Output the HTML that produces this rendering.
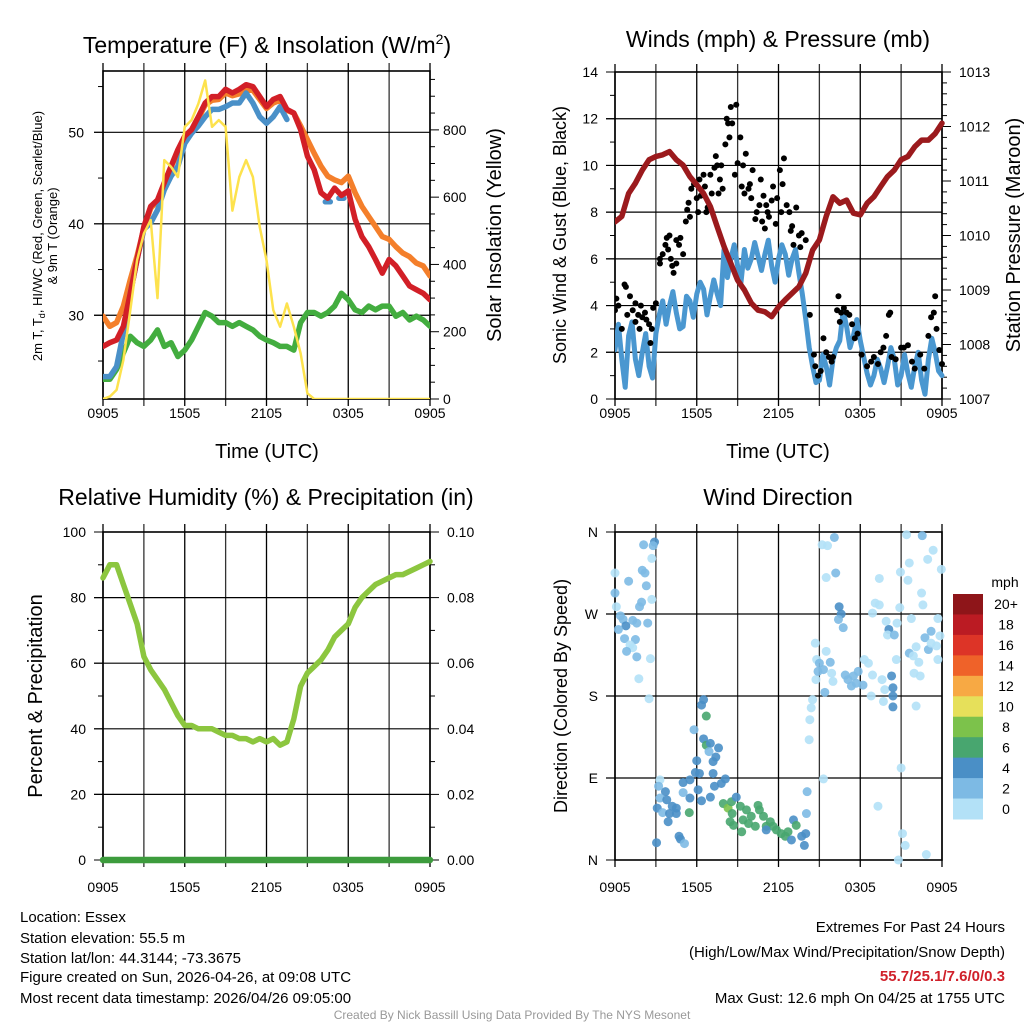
<!DOCTYPE html>
<html><head><meta charset="utf-8"><style>
html,body{margin:0;padding:0;background:#fff;}
svg{display:block;font-family:"Liberation Sans",Arial,sans-serif;}
</style></head><body>
<svg id="fig" width="1024" height="1024" viewBox="0 0 1024 1024" xmlns="http://www.w3.org/2000/svg">
<rect width="1024" height="1024" fill="#fff"/>
<g id="layer"></g>
<text x="267" y="53" font-size="23" text-anchor="middle">Temperature (F) &amp; Insolation (W/m<tspan font-size="14" dy="-9">2</tspan><tspan dy="9">)</tspan></text>
<text x="778" y="47" font-size="23" text-anchor="middle">Winds (mph) &amp; Pressure (mb)</text>
<text x="266" y="505" font-size="23" text-anchor="middle">Relative Humidity (%) &amp; Precipitation (in)</text>
<text x="778" y="505" font-size="23" text-anchor="middle">Wind Direction</text>
<text x="267" y="458" font-size="20" text-anchor="middle">Time (UTC)</text>
<text x="778" y="458" font-size="20" text-anchor="middle">Time (UTC)</text>
<text transform="translate(42,236) rotate(-90)" font-size="13" text-anchor="middle">2m T, T<tspan font-size="9" dy="3">d</tspan><tspan dy="-3">, HI/WC (Red, Green, Scarlet/Blue)</tspan></text>
<text transform="translate(57,236) rotate(-90)" font-size="13" text-anchor="middle">&amp; 9m T (Orange)</text>
<text transform="translate(501,235) rotate(-90)" font-size="20" text-anchor="middle">Solar Insolation (Yellow)</text>
<text transform="translate(566,235) rotate(-90)" font-size="18" text-anchor="middle">Sonic Wind &amp; Gust (Blue, Black)</text>
<text transform="translate(1020,235) rotate(-90)" font-size="20" text-anchor="middle">Station Pressure (Maroon)</text>
<text transform="translate(42,696) rotate(-90)" font-size="20" text-anchor="middle">Percent &amp; Precipitation</text>
<text transform="translate(567,696) rotate(-90)" font-size="18" text-anchor="middle">Direction (Colored By Speed)</text>
<text x="1005" y="587" font-size="14" text-anchor="middle">mph</text>
<g font-size="15">
<text x="20" y="922">Location: Essex</text>
<text x="20" y="943">Station elevation: 55.5 m</text>
<text x="20" y="963">Station lat/lon: 44.3144; -73.3675</text>
<text x="20" y="982">Figure created on Sun, 2026-04-26, at 09:08 UTC</text>
<text x="20" y="1003">Most recent data timestamp: 2026/04/26 09:05:00</text>
</g>
<g font-size="15" text-anchor="end">
<text x="1005" y="932">Extremes For Past 24 Hours</text>
<text x="1005" y="957">(High/Low/Max Wind/Precipitation/Snow Depth)</text>
<text x="1005" y="981" font-weight="bold" fill="#d0202a">55.7/25.1/7.6/0/0.3</text>
<text x="1005" y="1003">Max Gust: 12.6 mph On 04/25 at 1755 UTC</text>
</g>
<text x="512" y="1019" font-size="12" fill="#999" text-anchor="middle">Created By Nick Bassill Using Data Provided By The NYS Mesonet</text>
</svg>
<script>
const timeLabels = ["0905","1505","2105","0305","0905"];
const tempRed = [26.6,27.0,27.3,28.8,32.4,36.1,39.7,41.9,42.6,44.5,46.3,48.1,49.6,50.3,51.7,53.2,53.9,53.9,54.7,54.3,54.7,55.2,55.0,53.9,52.8,53.6,53.9,52.5,52.1,50.3,47.4,45.9,43.4,42.8,43.9,43.1,43.6,40.5,38.6,37.5,36.1,34.6,36.1,35.4,34.3,33.2,32.8,32.4,31.7];
const temp9m = [29.9,28.8,29.2,31.0,33.9,36.5,39.5,41.7,42.5,44.3,46.2,47.9,49.4,50.2,51.5,53.0,53.5,53.6,54.3,54.0,54.2,54.6,54.6,53.6,52.6,53.2,53.5,52.4,52.1,50.7,49.2,47.7,46.3,45.2,44.8,44.5,45.2,43.4,41.9,40.8,39.7,38.6,38.3,37.5,36.8,36.4,35.7,35.4,34.3];
const heatIndex = [23.3,23.3,24.4,28.1,32.4,36.1,39.4,40.1,41.5,43.7,45.2,46.3,48.8,49.9,50.7,51.7,52.5,52.5,52.8,53.2,53.2,54.3,53.2,51.7,51.0,51.7,52.8,51.4,null,null,null,null,null,42.4,null,42.8,null,null,null,null,null,null,null,null,null,null,null,null,null];
const dewpoint = [23.0,23.0,24.1,25.9,27.7,27.0,26.6,27.3,28.4,26.6,27.0,25.5,26.2,27.3,28.8,30.3,29.9,29.2,29.2,28.8,29.2,28.8,28.4,27.7,27.3,27.0,26.6,26.6,26.2,29.2,30.3,30.3,29.9,30.3,31.0,32.4,31.7,30.6,30.3,31.0,30.6,31.0,31.0,29.9,30.3,29.5,29.9,29.5,28.8];
const solar = [0,7,27,116,264,413,492,532,300,710,690,660,809,829,878,947,809,829,809,560,660,710,660,512,413,264,215,284,215,136,17,0,0,0,0,0,0,0,0,0,0,0,0,0,0,0,0,0,0];
const pressure = [1010.25,1010.35,1010.77,1010.96,1011.2,1011.39,1011.45,1011.48,1011.54,1011.39,1011.29,1011.08,1010.93,1010.77,1010.53,1010.16,1009.8,1009.49,1009.18,1009.0,1008.76,1008.63,1008.6,1008.51,1008.69,1008.82,1008.94,1009.06,1009.31,1009.73,1009.92,1010.35,1010.71,1010.59,1010.65,1010.41,1010.38,1010.59,1010.71,1010.9,1011.08,1011.2,1011.39,1011.45,1011.63,1011.75,1011.75,1011.87,1012.06];
const humidity = [86,90,90,84,78,72,62,58,55,52,48,44,41,41,40,40,40,39,38,38,37,37,36,37,36,37,35,36,43,53,57,59,61,64,68,70,72,77,80,82,84,85,86,87,87,88,89,90,91];
const precip = [0,0,0,0,0,0,0,0,0,0,0,0,0,0,0,0,0,0,0,0,0,0,0,0,0,0,0,0,0,0,0,0,0,0,0,0,0,0,0,0,0,0,0,0,0,0,0,0,0];
const windSpeed = [2.1,3.2,1.7,0.5,2.7,3.3,1.7,1.0,2.0,2.8,1.4,0.9,2.8,3.6,4.2,3.2,4.0,4.6,3.7,3.0,3.1,4.4,4.2,3.5,4.5,5.0,4.7,3.6,4.4,5.1,4.5,4.0,6.4,5.2,6.0,6.6,5.7,5.0,6.4,5.6,6.0,6.7,6.1,5.5,6.2,6.8,5.7,5.0,6.0,6.6,6.2,5.3,6.0,6.4,5.4,4.5,3.4,2.2,1.4,0.7,0.8,1.9,1.4,0.6,1.7,2.2,2.5,3.8,3.1,2.2,2.7,3.4,2.5,1.8,1.1,0.6,1.0,1.7,1.3,0.7,1.4,2.2,1.7,0.6,1.0,1.9,1.1,0.5,1.4,2.0,0.8,0.2,1.7,2.6,2.0,1.2,1.0];
const gustHour = [0,0.1,0.25,0.5,0.7,0.8,0.9,1.1,1.3,1.5,1.5,1.7,1.8,1.9,2.0,2.2,2.3,2.5,2.6,2.7,2.8,3.0,3.3,3.3,3.5,3.7,3.8,3.9,4.0,4.1,4.2,4.3,4.5,4.5,4.7,4.8,5.0,5.2,5.3,5.4,5.5,5.6,5.8,6.0,6.1,6.2,6.3,6.5,6.6,6.7,6.8,7.0,7.1,7.3,7.4,7.5,7.6,7.7,7.8,7.9,8.1,8.2,8.3,8.4,8.5,8.6,8.8,8.9,9.0,9.2,9.3,9.4,9.5,9.6,9.8,9.9,10.0,10.1,10.3,10.4,10.6,10.7,10.8,10.9,11.0,11.1,11.2,11.3,11.5,11.6,11.8,11.9,12.1,12.2,12.3,12.4,12.6,12.8,12.9,13.0,13.1,13.3,13.5,13.6,13.7,14.0,14.3,14.6,14.7,14.9,15.1,15.3,15.5,15.7,15.9,16.0,16.3,16.4,16.5,16.6,16.8,17.0,17.2,17.4,17.6,17.8,18.1,18.5,18.8,19.0,19.3,19.5,19.7,19.9,20.1,20.2,20.3,20.6,21.0,21.2,21.5,21.8,22.0,22.4,22.7,23.0,23.2,23.4,23.5,23.6,23.8,24.0];
const gustSpeed = [3.8,4.3,4.0,3.0,4.9,4.8,3.6,4.4,3.8,3.3,4.1,3.6,3.0,4.0,3.5,3.7,3.4,3.2,2.4,3.0,3.9,4.1,5.8,6.0,6.2,6.6,6.9,6.4,7.0,6.0,5.7,5.4,5.8,6.8,6.6,6.9,6.2,7.6,8.1,8.4,7.8,9.0,9.2,8.6,8.0,9.4,8.7,9.6,9.1,8.0,8.2,9.6,8.8,9.9,10.4,10.0,8.8,9.4,10.0,9.0,10.9,12.0,11.8,11.2,12.5,11.8,9.6,12.6,10.1,11.2,9.1,10.0,8.8,10.5,9.0,9.2,8.6,9.8,7.7,8.0,8.3,9.4,7.6,8.7,7.3,8.3,8.0,7.8,8.5,9.1,7.5,8.6,9.8,8.0,9.2,10.3,8.3,8.0,7.2,7.4,6.6,8.2,7.0,6.5,7.1,6.8,3.6,1.9,1.4,1.0,1.2,2.6,2.0,1.8,1.6,1.8,3.8,4.4,3.3,3.7,3.9,3.7,3.6,3.2,2.6,2.8,1.9,1.4,1.6,1.8,1.5,2.0,2.2,2.7,3.6,3.7,1.8,1.7,2.2,2.2,2.3,1.6,1.3,1.9,1.3,2.7,3.5,3.7,4.4,3.0,2.1,1.5];
const dirHour = [2.1,2.9,2.8,0,2.7,2.0,2.2,1.0,2.3,0,2.7,1.95,1.8,0.1,0.4,0.6,0.8,1.3,1.6,2.4,0.25,0.7,1.5,1.1,1.3,0.85,1.6,2.6,1.75,2.5,
6.5,6.35,6.7,5.8,6.5,6.7,7.0,7.6,6.9,7.4,7.2,6.0,5.9,6.2,7.2,8.1,7.8,7.3,3.3,3.2,3.7,5.0,5.5,5.0,5.5,6.1,6.35,7.0,3.3,3.8,3.1,4.2,4.5,3.5,4.0,4.5,5.45,3.9,4.7,4.8,5.1,3.05,
7.95,8.3,8.55,8.9,9.2,8.6,9.65,10.0,10.5,10.6,10.9,9.4,9.8,10.3,8.45,8.7,9.3,11.1,11.4,11.6,11.85,11.1,12.2,12.5,12.7,12.95,13.1,13.3,13.7,13.9,14.0,14.05,14.1,
14.25,14.3,14.4,14.5,14.75,14.9,14.8,14.7,15.0,15.3,15.4,15.5,15.8,15.9,16.0,15.2,15.6,16.1,16.2,15.5,16.45,16.6,16.4,16.75,16.9,17.1,17.5,17.85,17.7,17.35,18.2,18.3,18.6,18.9,18.8,18.9,19.1,19.4,19.4,19.6,19.7,19.8,19.9,20.1,20.0,20.3,20.4,20.4,20.4,20.5,20.65,20.7,20.9,20.95,21.0,19.3,15.3,21.4,21.6,21.5,21.75,21.6,21.9,21.95,22.1,22.4,22.5,22.6,22.55,22.95,23.35,23.95,22.75,23.0,23.2,23.2,23.6,23.7,23.85,23.7,22.1,22.3,21.1,21.3,20.8,22.85];
const dirDeg = [346,349,345,315,331,318,315,306,301,293,286,283,278,278,268,264,257,263,260,260,253,243,242,236,233,229,223,221,199,177,
176,170,158,143,133,126,128,123,119,113,108,109,96,95,95,89,84,81,88,81,75,85,88,74,68,77,65,69,68,66,57,59,57,52,51,51,52,42,26,23,18,19,
62,57,64,69,59,51,55,48,60,55,48,44,40,37,42,38,31,37,42,37,33,33,29,26,31,22,44,38,26,16,29,51,75,
132,154,167,176,198,207,220,238,216,209,184,229,217,205,196,346,345,354,315,310,278,270,264,255,203,198,202,207,194,191,192,220,216,203,180,271,282,280,309,198,174,187,262,253,247,202,189,180,168,247,220,260,277,316,101,59,89,357,326,307,265,227,224,205,169,202,293,280,356,330,340,319,244,231,251,238,235,265,246,220,234,217,29,16,0,6];
const dirSpeed = [3,5,3,1,1,3,3,3,3,3,1,3,3,1,3,3,5,3,3,3,3,3,3,1,1,3,3,1,1,1,
5,5,7,3,5,7,5,5,3,5,5,5,5,5,5,5,5,5,1,3,5,5,5,3,5,5,5,5,3,5,5,5,5,3,5,5,7,5,5,5,3,5,
7,9,7,5,7,7,7,7,7,7,7,7,7,7,7,7,7,7,7,7,7,5,7,7,7,5,5,7,5,5,5,3,3,
1,1,1,1,1,3,1,1,3,3,3,1,3,1,1,1,1,3,3,1,5,5,3,3,3,3,3,3,3,3,3,1,1,1,1,1,1,1,1,1,1,1,1,5,1,5,5,5,5,3,1,1,1,1,1,1,1,1,1,1,1,3,1,1,1,1,1,1,3,1,1,1,3,3,3,1,1,1,1,1,1,1,1,1,1,1];
const speedBins = ["0","2","4","6","8","10","12","14","16","18","20+"];
const speedColors = ["#b3e1f7","#7dbae4","#4a8fc6","#48a66f","#7cc24b","#e6e05a","#f7a944","#ef6229","#dd3427","#bb1b23","#8e1519"];

const P1={x0:103,x1:430,y0:71,y1:399,lab:19}, P2={x0:615,x1:942,y0:72,y1:399,lab:19}, P3={x0:103,x1:430,y0:532,y1:860,lab:32}, P4={x0:615,x1:942,y0:532,y1:860,lab:32};
const NS="http://www.w3.org/2000/svg";
const layer=document.getElementById('layer');
function el(tag,attrs,parent){const e=document.createElementNS(NS,tag);for(const k in attrs)e.setAttribute(k,attrs[k]);(parent||layer).appendChild(e);return e;}
function sx(p,h){return p.x0+h/24*(p.x1-p.x0);}
function sy(p,v,lo,hi){return p.y1-(v-lo)/(hi-lo)*(p.y1-p.y0);}
function linePath(p,vals,step,lo,hi){let d="",pen=false;vals.forEach((v,i)=>{if(v===null||v===undefined){pen=false;return;}const x=sx(p,i*step),y=sy(p,v,lo,hi);
 const next=vals[i+1];
 if(!pen&&(next===null||next===undefined)){d+="M"+(x-2.5).toFixed(1)+" "+y.toFixed(1)+"L"+(x+2.5).toFixed(1)+" "+y.toFixed(1);return;}
 d+=(pen?"L":"M")+x.toFixed(1)+" "+y.toFixed(1);pen=true;});return d;}

function frame(p,name,hTicks,leftT,rightT){
  const g=el('g',{});
  
  
  for(let h=0;h<=24;h+=3){const x=sx(p,h);const ln=el('line',{x1:x,x2:x,y1:p.y0-8,y2:p.y1+7,stroke:(h%6==0?'#000':'#333'),'stroke-width':1.3},g);
    
    }
  timeLabels.forEach((t,i)=>{const tx=el('text',{x:sx(p,i*6),y:p.y1+p.lab,'font-size':14,'text-anchor':'middle'},g);tx.textContent=t;
    
    });
  hTicks.forEach(y=>{const ln=el('line',{x1:p.x0-9,x2:p.x1,y1:y,y2:y,stroke:'#000','stroke-width':1.2},g);
    
    });
  function ticks(side,spec){const {lo,hi,major,minor,labels,fmt}=spec;
    for(let v=lo;v<=hi+1e-9;v+=minor){const y=sy(p,v,lo,hi);const isMaj=Math.abs(((v-lo)/major)-Math.round((v-lo)/major))<1e-6;
      const len=isMaj?9:5;const x=side=='l'?p.x0:p.x1;
      el('line',{x1:x,x2:side=='l'?x-len:x+len,y1:y,y2:y,stroke:'#000','stroke-width':1},g);
      if(isMaj){const tx=el('text',{x:side=='l'?p.x0-17:p.x1+17,y:y+5,'font-size':14,'text-anchor':side=='l'?'end':'start'},g);
        tx.textContent=labels?labels[Math.round((v-lo)/major)]:fmt(v);
        
        }}}
  if(leftT)ticks('l',leftT); if(rightT)ticks('r',rightT);
  const b=el('rect',{x:p.x0,y:p.y0,width:p.x1-p.x0,height:p.y1-p.y0,fill:'none',stroke:'#000','stroke-width':1.6},g);
  
  
  return g;
}
function drawLine(p,vals,step,lo,hi,color,w,name){const e=el('path',{d:linePath(p,vals,step,lo,hi),fill:'none',stroke:color,'stroke-width':w,'stroke-linejoin':'round','stroke-linecap':'round'});
  
  return e;}
function dl(g,...a){const e=drawLine(...a);g.appendChild(e);return e;}

const TLO=20.85,THI=56.7,SLO=0,SHI=975;
frame(P1,'temperature',[30,40,50].map(v=>sy(P1,v,TLO,THI)),null,null);
(function(){for(let v=25;v<=55;v+=5){const y=sy(P1,v,TLO,THI);const maj=v%10==0;el('line',{x1:P1.x0,x2:P1.x0-(maj?9:5),y1:y,y2:y,stroke:'#000'});
  if(maj){const t=el('text',{x:P1.x0-19,y:y+5,'font-size':14,'text-anchor':'end'});t.textContent=v;
  
  }}
 for(let v=0;v<=950;v+=50){const y=sy(P1,v,SLO,SHI);const maj=v%200==0;el('line',{x1:P1.x1,x2:P1.x1+(maj?9:5),y1:y,y2:y,stroke:'#000'});
  if(maj){const t=el('text',{x:P1.x1+13,y:y+5,'font-size':14});t.textContent=v;
  
  }}})();
const clip1=el('clipPath',{id:'c1'});el('rect',{x:P1.x0,y:P1.y0,width:P1.x1-P1.x0,height:P1.y1-P1.y0},clip1);
const g1=el('g',{'clip-path':'url(#c1)'});
dl(g1,P1,dewpoint,0.5,TLO,THI,'#43ad3f',5.5,'dewpoint-line');
dl(g1,P1,temp9m,0.5,TLO,THI,'#f47f2b',5.5,'temp-9m-line');
dl(g1,P1,heatIndex,0.5,TLO,THI,'#4a90c8',5.5,'heat-index-line');
dl(g1,P1,tempRed,0.5,TLO,THI,'#d21f27',5.5,'temp-2m-line');
dl(g1,P1,solar,0.5,SLO,SHI,'#fde24d',2.5,'solar-line');

const WLO=0,WHI=14,PLO=1007,PHI=1013;
frame(P2,'winds',[2,4,6,8,10,12].map(v=>sy(P2,v,WLO,WHI)),{lo:0,hi:14,major:2,minor:1,fmt:v=>v},{lo:1007,hi:1013,major:1,minor:0.2,fmt:v=>Math.round(v)});
const clip2=el('clipPath',{id:'c2'});el('rect',{x:P2.x0,y:P2.y0-3,width:P2.x1-P2.x0+4,height:P2.y1-P2.y0+3},clip2);
const g2=el('g',{'clip-path':'url(#c2)'});
dl(g2,P2,windSpeed,0.25,WLO,WHI,'#4a97d0',5,'sonic-wind-line');
gustHour.forEach((h,i)=>{const c=el('circle',{cx:sx(P2,h),cy:sy(P2,gustSpeed[i],WLO,WHI),r:3,fill:'#000'},g2);
  
  });
dl(g2,P2,pressure,0.5,PLO,PHI,'#9b1a1d',5.5,'pressure-line');

frame(P3,'humidity',[20,40,60,80].map(v=>sy(P3,v,0,100)),{lo:0,hi:100,major:20,minor:10,fmt:v=>v},{lo:0,hi:0.1,major:0.02,minor:0.01,fmt:v=>v.toFixed(2)});
const g3=el('g',{});
dl(g3,P3,precip,0.5,0,0.1,'#3d9c3d',6.5,'precipitation-line');
dl(g3,P3,humidity,0.5,0,100,'#8cc63f',5.5,'humidity-line');

frame(P4,'wind-direction',[90,180,270].map(v=>sy(P4,v,0,360)),{lo:0,hi:360,major:90,minor:90,labels:["N","E","S","W","N"]},null);
dirHour.forEach((h,i)=>{const s=dirSpeed[i];const bin=Math.min(10,Math.floor(s/2));
  const c=el('circle',{cx:sx(P4,h),cy:sy(P4,dirDeg[i],0,360),r:4.5,fill:speedColors[bin],'fill-opacity':0.9});
  
  });
const cb=el('g',{});


const cbTop=594,cbH=225/11;
speedBins.forEach((lab,i)=>{const k=10-i;const y=cbTop+i*cbH;
  const r=el('rect',{x:953,y:y,width:30,height:cbH+0.5,fill:speedColors[k]},cb);
  
  
  const t=el('text',{x:1006,y:y+cbH/2+5,'font-size':14,'text-anchor':'middle'},cb);t.textContent=speedBins[k];
  
  });
</script>
</body></html>
